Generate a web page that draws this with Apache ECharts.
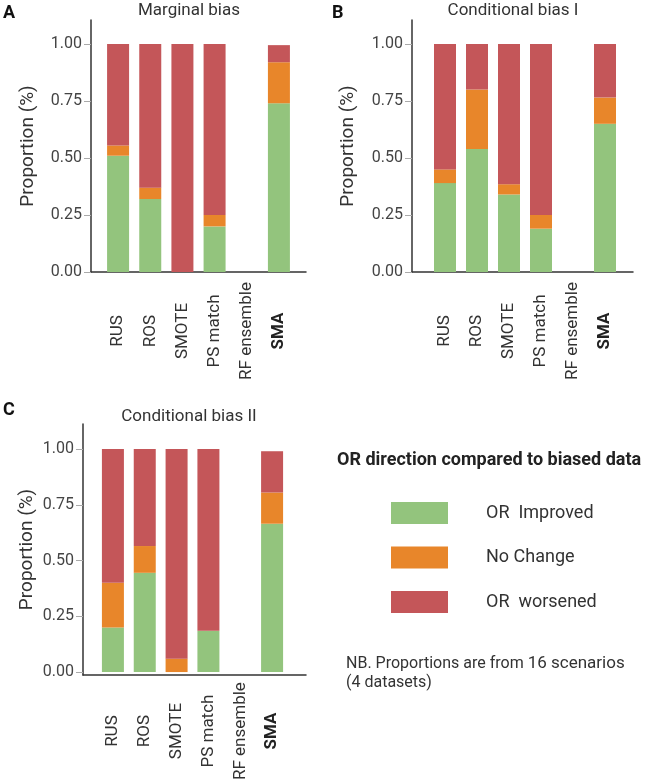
<!DOCTYPE html>
<html><head><meta charset="utf-8">
<script src="https://cdn.jsdelivr.net/npm/echarts@6/dist/echarts.min.js"></script>
<style>html,body{margin:0;padding:0;background:#fff}#chart{width:647px;height:783px}</style>
</head><body><div id="chart"></div>
<script>
// ---- data ----
const categories = ['RUS', 'ROS', 'SMOTE', 'PS match', 'RF ensemble', 'SMA'];
const boldCategories = ['SMA'];
const seriesNames = ['OR  Improved', 'No Change', 'OR  worsened'];
const panelTitles = ['Marginal bias', 'Conditional bias I', 'Conditional bias II'];
const panelLetters = ['A', 'B', 'C'];
const yMin = 0, yMax = 1, yInterval = 0.25;

const marginalImproved = [0.51, 0.32, 0, 0.20, 0, 0.74];
const marginalNoChange = [0.045, 0.05, 0, 0.05, 0, 0.18];
const marginalWorsened = [0.445, 0.63, 1.0, 0.75, 0, 0.075];

const cond1Improved = [0.39, 0.54, 0.34, 0.19, 0, 0.65];
const cond1NoChange = [0.06, 0.26, 0.045, 0.06, 0, 0.115];
const cond1Worsened = [0.55, 0.20, 0.615, 0.75, 0, 0.235];

const cond2Improved = [0.20, 0.445, 0, 0.185, 0, 0.665];
const cond2NoChange = [0.20, 0.12, 0.06, 0, 0, 0.14];
const cond2Worsened = [0.60, 0.435, 0.94, 0.815, 0, 0.185];

const legendTitle = 'OR direction compared to biased data';
const noteMain = 'NB. Proportions are from ';
const noteCount = '16 scenarios';
const noteLine2 = '(4 datasets)';
const yAxisName = 'Proportion (%)';

// ---- styling / layout ----
const colors = ['#93C47D', '#E8862A', '#C45659'];
const FONT = 'Roboto';
const panelData = [
  [marginalImproved, marginalNoChange, marginalWorsened],
  [cond1Improved, cond1NoChange, cond1Worsened],
  [cond2Improved, cond2NoChange, cond2Worsened]
];
const layout = [
  {frame: {left: 91, top: 20, width: 215, height: 252}, plot: {left: 102, top: 44, width: 193, height: 228},
   nameGap: 53, labelMargin: 59, titleX: 189, titleTop: 2.5, letterX: 3, letterTop: 4},
  {frame: {left: 412, top: 20, width: 221, height: 252}, plot: {left: 429, top: 44, width: 192, height: 228},
   nameGap: 54, labelMargin: 59, titleX: 513, titleTop: 2.5, letterX: 332, letterTop: 4},
  {frame: {left: 83, top: 424, width: 223, height: 251}, plot: {left: 97, top: 449, width: 191, height: 226},
   nameGap: 46, labelMargin: 59, titleX: 189, titleTop: 408.5, letterX: 3, letterTop: 401}
];

const grid = [], xAxis = [], yAxis = [], series = [], title = [];
layout.forEach((L, i) => {
  const fg = grid.length; grid.push(Object.assign({containLabel: false}, L.frame));
  const pg = grid.length; grid.push(Object.assign({containLabel: false}, L.plot));
  // frame axes (axis lines only)
  xAxis.push({gridIndex: fg, type: 'value', min: 0, max: 1,
    axisLine: {show: true, lineStyle: {color: '#333', width: 1.5}},
    axisTick: {show: false}, axisLabel: {show: false}, splitLine: {show: false}});
  yAxis.push({gridIndex: fg, type: 'value', min: 0, max: 1,
    axisLine: {show: true, lineStyle: {color: '#333', width: 1.5}},
    axisTick: {show: false}, axisLabel: {show: false}, splitLine: {show: false},
    name: yAxisName, nameLocation: 'middle', nameGap: L.nameGap,
    nameTextStyle: {fontFamily: FONT, fontSize: 19, color: '#333'}});
  // plot axes
  xAxis.push({gridIndex: pg, type: 'category', data: categories,
    axisLine: {show: false}, axisTick: {show: false},
    axisLabel: {interval: 0, rotate: 90, align: 'center', verticalAlign: 'middle', margin: L.labelMargin,
      fontFamily: FONT, fontSize: 17, color: '#333',
      formatter: v => boldCategories.includes(v) ? '{b|' + v + '}' : v,
      rich: {b: {fontFamily: FONT, fontSize: 17, fontWeight: 'bold', color: '#222'}}}});
  yAxis.push({gridIndex: pg, type: 'value', min: yMin, max: yMax, interval: yInterval,
    offset: L.plot.left - L.frame.left,
    axisLine: {show: false},
    axisTick: {show: true, length: 7, lineStyle: {color: '#aaa', width: 1}},
    axisLabel: {margin: 9, fontFamily: FONT, fontSize: 16, color: '#444', formatter: v => v.toFixed(2)},
    splitLine: {show: false}});
  seriesNames.forEach((name, k) => {
    series.push({type: 'bar', name, stack: 'p' + i, xAxisIndex: 2 * i + 1, yAxisIndex: 2 * i + 1,
      barWidth: 22, data: panelData[i][k], itemStyle: {color: colors[k]}, silent: true});
  });
  title.push({text: panelTitles[i], left: L.titleX, top: L.titleTop, textAlign: 'center', padding: 0,
    textStyle: {fontFamily: FONT, fontSize: 17, fontWeight: 'normal', color: '#333', lineHeight: 17}});
  title.push({text: panelLetters[i], left: L.letterX, top: L.letterTop, padding: 0,
    textStyle: {fontFamily: FONT, fontSize: 18, fontWeight: 'bold', color: '#111', lineHeight: 18}});
});

title.push({text: legendTitle, left: 337, top: 451, padding: 0,
  textStyle: {fontFamily: FONT, fontSize: 18, fontWeight: 'bold', color: '#222', lineHeight: 18}});
title.push({text: '{a|' + noteMain + '}{b|' + noteCount + '}\n{a|' + noteLine2 + '}', left: 346, top: 654, padding: 0,
  textStyle: {fontWeight: 'normal', rich: {
    a: {fontFamily: FONT, fontSize: 16, fontWeight: 'normal', color: '#333', lineHeight: 19},
    b: {fontFamily: FONT, fontSize: 17, fontWeight: 'normal', color: '#333', lineHeight: 19}}}});

const option = {
  animation: false,
  backgroundColor: '#fff',
  textStyle: {fontFamily: FONT},
  title,
  legend: {data: seriesNames, orient: 'vertical', left: 391, top: 502, itemWidth: 57, itemHeight: 22, itemGap: 22.5,
    icon: 'rect', selectedMode: false, padding: 0,
    textStyle: {fontFamily: FONT, fontSize: 18, color: '#333', padding: [0, 0, 0, 33]}},
  grid, xAxis, yAxis, series
};
const chart = echarts.init(document.getElementById('chart'), null, {renderer: 'canvas'});
chart.setOption(option);
</script></body></html>
